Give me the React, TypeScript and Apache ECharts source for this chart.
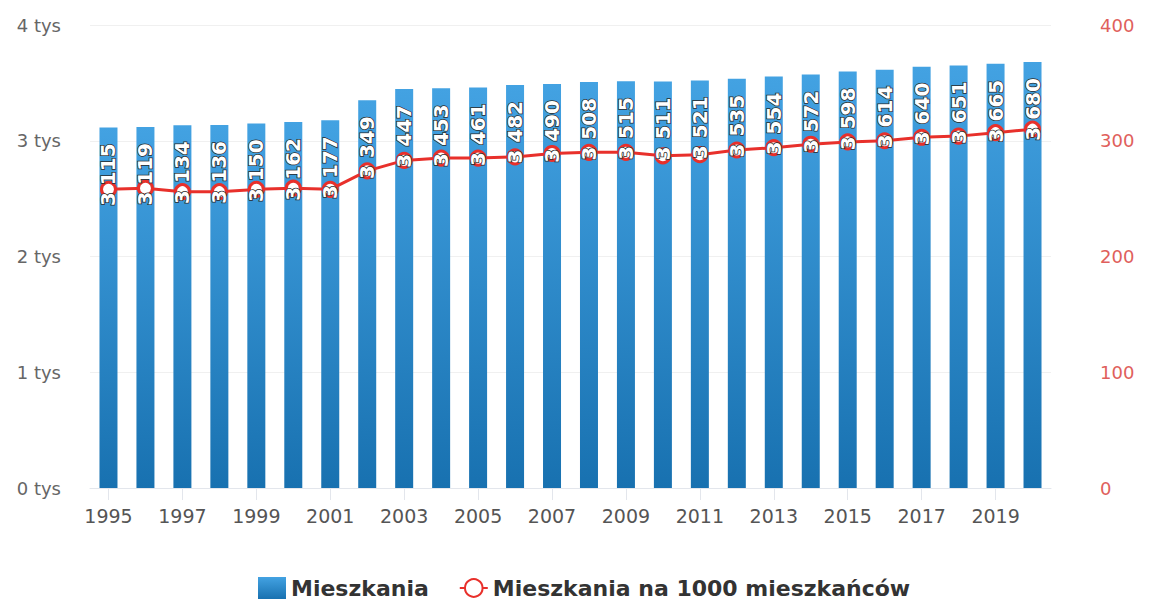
import React, { useEffect, useRef } from 'react';
import * as echarts from 'echarts';

const years = ['1995','1996','1997','1998','1999','2000','2001','2002','2003','2004','2005','2006','2007','2008','2009','2010','2011','2012','2013','2014','2015','2016','2017','2018','2019','2020'];
const dwellings = [3115,3119,3134,3136,3150,3162,3177,3349,3447,3453,3461,3482,3490,3508,3515,3511,3521,3535,3554,3572,3598,3614,3640,3651,3665,3680];
const per1000 = [258,259,256,256,258,259,258,274,283,285,285,286,289,290,290,287,288,292,294,297,299,300,303,304,307,310];
const leftTicks = [0, 1000, 2000, 3000, 4000];
const rightTicks = [0, 100, 200, 300, 400];

const fmtThousands = (v: number) => {
  const t = Math.floor(v / 1000);
  const r = String(v % 1000).padStart(3, '0');
  return t > 0 ? `${t} ${r}` : String(v);
};

export default function App() {
  const ref = useRef<HTMLDivElement>(null);
  useEffect(() => {
    if (!ref.current) return;
    const chart = echarts.init(ref.current, null, { renderer: 'svg' });
    const font = 'DejaVu Sans, Verdana, sans-serif';
    chart.setOption({
      animation: false,
      backgroundColor: '#ffffff',
      textStyle: { fontFamily: font },
      grid: { left: 90, right: 99, top: 25, bottom: 119, containLabel: false },
      legend: {
        left: 253,
        top: 572,
        itemGap: 30,
        itemWidth: 28,
        itemHeight: 22,
        textStyle: { fontFamily: font, fontSize: 22, fontWeight: 'bold', color: '#333333' },
        data: [
          { name: 'Mieszkania', icon: 'rect' },
          { name: 'Mieszkania na 1000 mieszkańców' },
        ],
      },
      xAxis: {
        type: 'category',
        data: years,
        axisLine: { show: true, lineStyle: { color: '#e3e6ec', width: 1 } },
        axisTick: { show: true, alignWithLabel: true, interval: 1, length: 12, lineStyle: { color: '#e3e6ec' } },
        axisLabel: { interval: 1, margin: 18, fontSize: 19, color: '#555555', fontFamily: font },
        splitLine: { show: false },
      },
      yAxis: [
        {
          type: 'value',
          min: leftTicks[0],
          max: leftTicks[leftTicks.length - 1],
          interval: leftTicks[1] - leftTicks[0],
          axisLine: { show: false },
          axisTick: { show: false },
          axisLabel: {
            margin: 29,
            fontSize: 18,
            color: '#666666',
            fontFamily: font,
            formatter: (v: number) => `${v / 1000} tys`,
          },
          splitLine: { show: true, lineStyle: { color: '#f0f0f0', width: 1 } },
        },
        {
          type: 'value',
          min: rightTicks[0],
          max: rightTicks[rightTicks.length - 1],
          interval: rightTicks[1] - rightTicks[0],
          axisLine: { show: false },
          axisTick: { show: false },
          axisLabel: { margin: 49, fontSize: 18, color: '#e05f5c', fontFamily: font },
          splitLine: { show: false },
        },
      ],
      series: [
        {
          name: 'Mieszkania',
          type: 'bar',
          yAxisIndex: 0,
          data: dwellings,
          barWidth: 18,
          itemStyle: {
            color: new echarts.graphic.LinearGradient(0, 0, 0, 1, [
              { offset: 0, color: '#43a2e2' },
              { offset: 1, color: '#1871b0' },
            ]),
          },
          z: 2,
        },
        {
          name: 'Mieszkania na 1000 mieszkańców',
          type: 'line',
          yAxisIndex: 1,
          data: per1000,
          symbol: 'circle',
          symbolSize: 14,
          showAllSymbol: true,
          lineStyle: { color: '#e8302b', width: 3 },
          itemStyle: { color: '#ffffff', borderColor: '#e8302b', borderWidth: 3 },
          z: 3,
        },
        {
          name: 'labels',
          type: 'bar',
          yAxisIndex: 0,
          data: dwellings,
          barWidth: 18,
          barGap: '-100%',
          silent: true,
          itemStyle: { color: 'rgba(0,0,0,0)' },
          label: {
            show: true,
            position: 'insideTop',
            distance: 16,
            rotate: 90,
            align: 'right',
            verticalAlign: 'middle',
            fontSize: 20,
            fontWeight: 'bold',
            fontFamily: font,
            color: '#ffffff',
            textBorderColor: '#2a2a2a',
            textBorderWidth: 1.5,
            formatter: (p: any) => fmtThousands(p.value),
          },
          z: 5,
        },
      ],
    });
    return () => chart.dispose();
  }, []);
  return (
    <div
      ref={ref}
      style={{ position: 'fixed', left: 0, top: 0, width: 1150, height: 607 }}
    />
  );
}
